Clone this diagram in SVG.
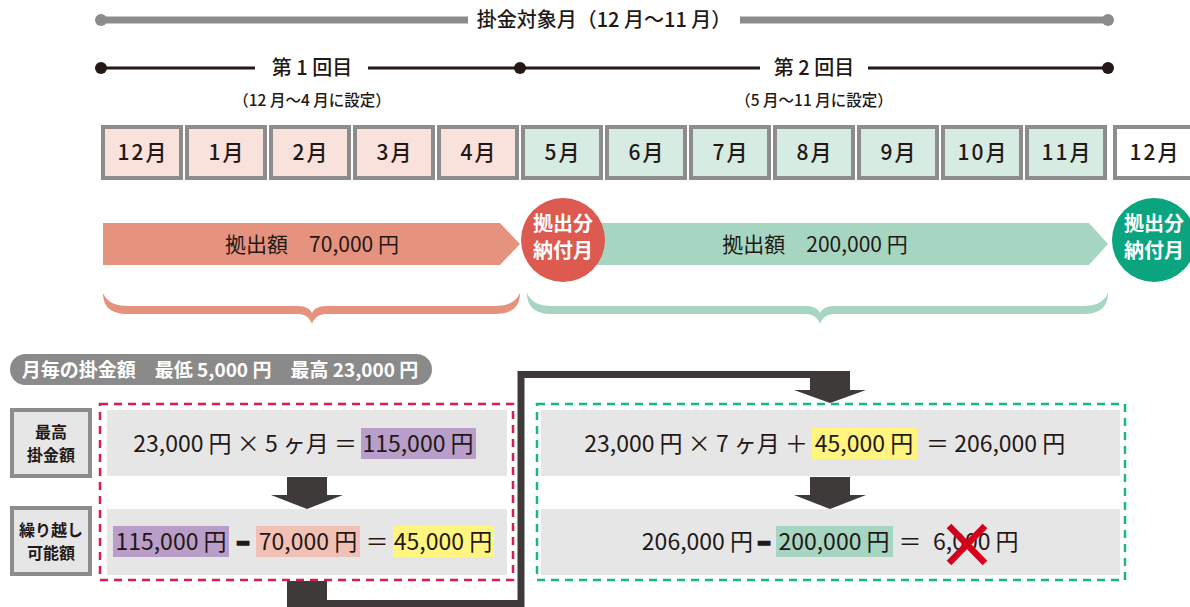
<svg xmlns="http://www.w3.org/2000/svg" width="1190" height="607" viewBox="0 0 1190 607">
<style>
text{font-family:"Noto Sans CJK JP","Noto Sans",sans-serif;fill:#231815}
.m{font-size:21px;font-weight:500;text-anchor:middle;letter-spacing:2px}
.h{font-size:20px;font-weight:500;text-anchor:middle}
.s{font-size:15.5px;font-weight:500;text-anchor:middle}
.c{font-size:20px;font-weight:700;fill:#fff;text-anchor:middle}
.a{font-size:21px;font-weight:400;text-anchor:middle}
.r{font-size:23px;font-weight:400}
.lb{font-size:16px;font-weight:700;text-anchor:middle}
.pl{font-size:19px;font-weight:700;text-anchor:middle;fill:#fff}
.dash{font-weight:900;stroke:#231815;stroke-width:2.5}
.mp{fill:#f9e1dc;stroke:#8c8c8c;stroke-width:4}
.mg{fill:#d6ebe2;stroke:#8c8c8c;stroke-width:4}
.mw{fill:#fff;stroke:#8c8c8c;stroke-width:4}
.row{fill:#e6e6e6}
.dk{fill:#3e3a39}
</style>
<g id="timeline-total">
<line x1="101" y1="20" x2="468" y2="20" stroke="#8c8c8c" stroke-width="7"/>
<line x1="740" y1="20" x2="1108" y2="20" stroke="#8c8c8c" stroke-width="7"/>
<circle cx="101" cy="20" r="6" fill="#8c8c8c"/>
<circle cx="1108" cy="20" r="6" fill="#8c8c8c"/>
<text class="h" x="604" y="27">掛金対象月（12 月〜11 月）</text>
</g>
<g id="timeline-rounds">
<line x1="101" y1="68" x2="255" y2="68" stroke="#231815" stroke-width="3"/>
<line x1="368" y1="68" x2="760" y2="68" stroke="#231815" stroke-width="3"/>
<line x1="868" y1="68" x2="1108" y2="68" stroke="#231815" stroke-width="3"/>
<circle cx="101" cy="68" r="6" fill="#231815"/>
<circle cx="520" cy="68" r="6" fill="#231815"/>
<circle cx="1108" cy="68" r="6" fill="#231815"/>
<text class="h" x="312" y="75" font-size="21">第 1 回目</text>
<text class="h" x="814" y="75" font-size="21">第 2 回目</text>
<text class="s" x="312" y="106">（12 月〜4 月に設定）</text>
<text class="s" x="814" y="106">（5 月〜11 月に設定）</text>
</g>
<g id="months">
<rect class="mp" x="103" y="127" width="78" height="51"/><text class="m" x="143" y="160">12月</text>
<rect class="mp" x="187" y="127" width="78" height="51"/><text class="m" x="227" y="160">1月</text>
<rect class="mp" x="271" y="127" width="78" height="51"/><text class="m" x="311" y="160">2月</text>
<rect class="mp" x="355" y="127" width="78" height="51"/><text class="m" x="395" y="160">3月</text>
<rect class="mp" x="439" y="127" width="78" height="51"/><text class="m" x="479" y="160">4月</text>
<rect class="mg" x="523" y="127" width="78" height="51"/><text class="m" x="563" y="160">5月</text>
<rect class="mg" x="607" y="127" width="78" height="51"/><text class="m" x="647" y="160">6月</text>
<rect class="mg" x="691" y="127" width="78" height="51"/><text class="m" x="731" y="160">7月</text>
<rect class="mg" x="775" y="127" width="78" height="51"/><text class="m" x="815" y="160">8月</text>
<rect class="mg" x="859" y="127" width="78" height="51"/><text class="m" x="899" y="160">9月</text>
<rect class="mg" x="943" y="127" width="78" height="51"/><text class="m" x="983" y="160">10月</text>
<rect class="mg" x="1027" y="127" width="78" height="51"/><text class="m" x="1067" y="160">11月</text>
<rect class="mw" x="1115" y="127" width="78" height="51"/><text class="m" x="1155" y="160">12月</text>
</g>
<g id="contrib1">
<polygon points="103,223 500,223 520,244 500,265 103,265" fill="#e5927f"/>
<text class="a" x="312" y="252">拠出額　70,000 円</text>
</g>
<g id="contrib2">
<polygon points="570,223 1089,223 1108,244 1089,265 570,265" fill="#a6d5c2"/>
<text class="a" x="815" y="252">拠出額　200,000 円</text>
</g>
<g id="pay1">
<circle cx="563" cy="240" r="42" fill="#dc5a4f"/>
<text class="c" x="563" y="231">拠出分</text>
<text class="c" x="563" y="258">納付月</text>
</g>
<g id="pay2">
<circle cx="1154" cy="240" r="42" fill="#0aa47e"/>
<text class="c" x="1154" y="231">拠出分</text>
<text class="c" x="1154" y="258">納付月</text>
</g>
<g id="brace1">
<path d="M103,293 C103,306 110,314 128,314 L298,314 C305,314 310,318 312,324 C314,318 319,314 326,314 L495,314 C513,314 520,306 520,293 C516,302 508,306 495,306 L326,306 C318,306 314,309 312,313 C310,309 306,306 298,306 L128,306 C115,306 107,302 103,293 Z" fill="#e5927f"/>
</g>
<g id="brace2">
<path d="M527,293 C527,306 534,314 552,314 L806,314 C813,314 818,318 820,324 C822,318 827,314 834,314 L1083,314 C1101,314 1108,306 1108,293 C1104,302 1096,306 1083,306 L834,306 C826,306 822,309 820,313 C818,309 814,306 806,306 L552,306 C539,306 531,302 527,293 Z" fill="#a6d5c2"/>
</g>
<g id="monthly-range">
<rect x="10" y="354" width="422" height="31" rx="15.5" fill="#8a8a8a"/>
<text class="pl" x="220" y="377">月毎の掛金額　最低 5,000 円　最高 23,000 円</text>
</g>
<g id="label-max">
<rect x="12" y="410" width="78" height="66" fill="#e6e6e6" stroke="#8c8c8c" stroke-width="4"/>
<text class="lb" x="51" y="438" font-size="15.5">最高</text>
<text class="lb" x="51" y="461" font-size="15.5">掛金額</text>
</g>
<g id="label-carry">
<rect x="12" y="508" width="78" height="66" fill="#e6e6e6" stroke="#8c8c8c" stroke-width="4"/>
<text class="lb" x="51" y="536" font-size="15.5">繰り越し</text>
<text class="lb" x="51" y="559" font-size="15.5">可能額</text>
</g>
<g id="connectors">
<rect class="dk" x="287" y="477" width="40" height="19"/>
<polygon class="dk" points="271,495 343,495 307,509"/>
<rect class="dk" x="287" y="581" width="40" height="26"/>
<polyline points="320,603.5 521,603.5 521,374.5 820,374.5" fill="none" stroke="#3e3a39" stroke-width="7"/>
<rect class="dk" x="810" y="371" width="40" height="20"/>
<polygon class="dk" points="794,390 866,390 830,403"/>
<rect class="dk" x="810" y="477" width="40" height="19"/>
<polygon class="dk" points="794,495 866,495 830,509"/>
</g>
<g id="calc1">
<rect x="100" y="404" width="413" height="176" fill="none" stroke="#d81f4a" stroke-width="2.5" stroke-dasharray="8,6"/>
<rect class="row" x="107" y="410" width="400" height="66"/>
<rect x="361" y="428" width="115" height="31" fill="#b89ec9"/>
<text class="r" x="357" y="452" text-anchor="end">23,000 円 × 5 ヶ月 ＝</text>
<text class="r" x="418" y="452" text-anchor="middle">115,000 円</text>
<rect class="row" x="107" y="509" width="400" height="66"/>
<rect x="113" y="526" width="116" height="31" fill="#b89ec9"/>
<rect x="256" y="526" width="104" height="31" fill="#f2c1b6"/>
<rect x="393" y="526" width="101" height="31" fill="#fff57f"/>
<text class="r" x="171" y="550" text-anchor="middle">115,000 円</text>
<text class="r dash" x="243" y="550" text-anchor="middle">–</text>
<text class="r" x="308" y="550" text-anchor="middle">70,000 円</text>
<text class="r" x="377" y="550" text-anchor="middle">＝</text>
<text class="r" x="443" y="550" text-anchor="middle">45,000 円</text>
</g>
<g id="calc2">
<rect x="537" y="404" width="588" height="176" fill="none" stroke="#1fb38a" stroke-width="2.5" stroke-dasharray="8,6"/>
<rect class="row" x="541" y="410" width="579" height="66"/>
<rect x="812" y="428" width="105" height="31" fill="#fff57f"/>
<text class="r" x="808" y="452" text-anchor="end">23,000 円 × 7 ヶ月 ＋</text>
<text class="r" x="864" y="452" text-anchor="middle">45,000 円</text>
<text class="r" x="926" y="452">＝ 206,000 円</text>
<rect class="row" x="541" y="509" width="579" height="66"/>
<rect x="776" y="526" width="117" height="31" fill="#a6d5c2"/>
<text class="r" x="753" y="550" text-anchor="end">206,000 円</text>
<text class="r dash" x="764" y="550" text-anchor="middle">–</text>
<text class="r" x="834" y="550" text-anchor="middle">200,000 円</text>
<text class="r" x="910" y="550" text-anchor="middle">＝</text>
<text class="r" x="933" y="550">6,000 円</text>
<path d="M949,526 L985,563 M985,526 L949,563" stroke="#d7001c" stroke-width="6.5"/>
</g>
</svg>
